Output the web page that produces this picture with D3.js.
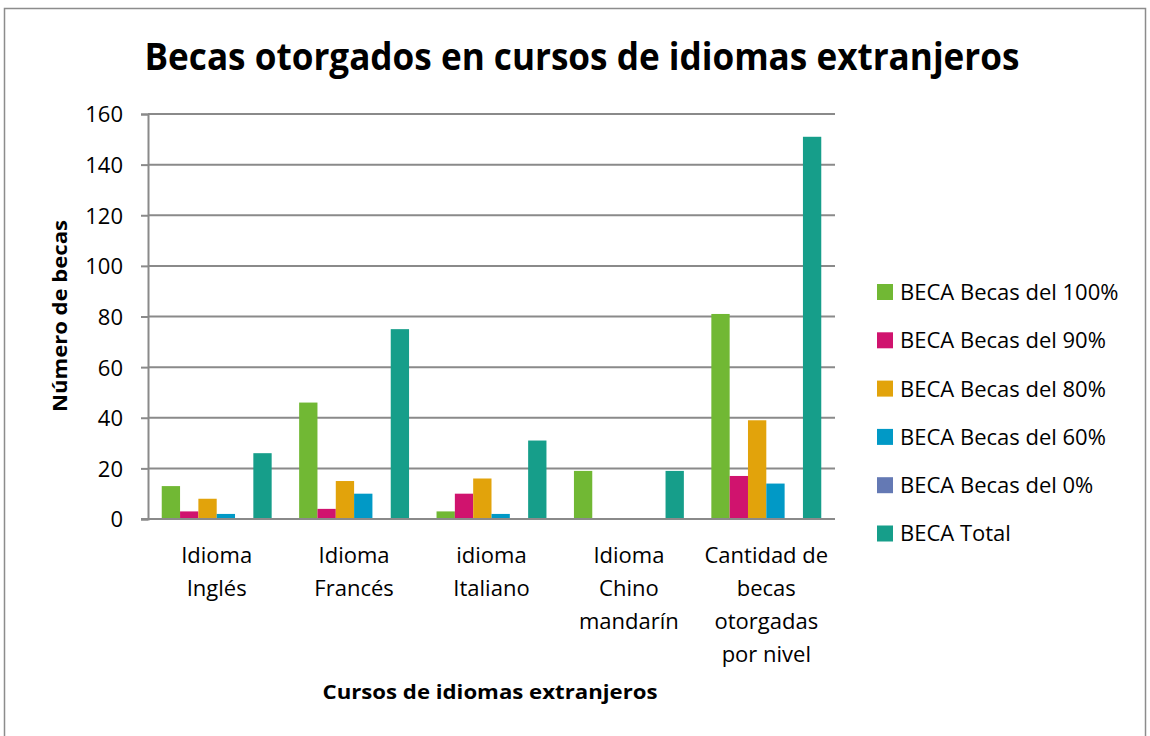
<!DOCTYPE html>
<html><head><meta charset="utf-8">
<script src="https://cdn.jsdelivr.net/npm/d3@7"></script>
<style>
html,body{margin:0;padding:0;background:#fff;}
svg{display:block;}
text{font-family:"Open Sans",Lato,sans-serif;fill:#000;}
</style></head>
<body>
<svg id="chart" width="1150" height="736"></svg>
<script>
const categories = [["Idioma","Inglés"],["Idioma","Francés"],["idioma","Italiano"],["Idioma","Chino","mandarín"],["Cantidad de","becas","otorgadas","por nivel"]];
const seriesNames = ["BECA Becas del 100%","BECA Becas del 90%","BECA Becas del 80%","BECA Becas del 60%","BECA Becas del 0%","BECA Total"];
const colors = ["#71b834","#d0136e","#e2a30b","#0199c6","#6479b4","#169e8a"];
const becas100 = [13,46,3,19,81];
const becas90 = [3,4,10,0,17];
const becas80 = [8,15,16,0,39];
const becas60 = [2,10,2,0,14];
const becas0 = [0,0,0,0,0];
const total = [26,75,31,19,151];
const yTicks = [0,20,40,60,80,100,120,140,160];
const seriesValues = [becas100,becas90,becas80,becas60,becas0,total];

const svg = d3.select("#chart");
const L = 148, R = 835, T = 114, B = 519;
const FS = 22;

svg.append("rect").attr("x",4.5).attr("y",8.5).attr("width",1141).attr("height",740)
  .attr("fill","#fff").attr("stroke","#8c8c8c").attr("stroke-width",1.5);

const x0 = d3.scaleBand().domain(d3.range(categories.length)).range([L,R]).paddingInner(0).paddingOuter(0);
const x1 = d3.scaleBand().domain(d3.range(seriesNames.length)).range([0,x0.bandwidth()]).paddingInner(0).paddingOuter(0.75);
const y = d3.scaleLinear().domain([0,160]).range([B,T]);

// gridlines
svg.append("g").selectAll("line").data(yTicks.filter(d=>d>0)).join("line")
  .attr("x1",L).attr("x2",R).attr("y1",d=>y(d)).attr("y2",d=>y(d))
  .attr("stroke","#8a8a8a").attr("stroke-width",2);

// bars
const groups = svg.append("g").selectAll("g").data(categories).join("g")
  .attr("transform",(d,i)=>`translate(${x0(i)},0)`);
groups.selectAll("rect").data((d,i)=>seriesValues.map((s,j)=>({j,v:s[i]}))).join("rect")
  .attr("x",d=>x1(d.j)).attr("width",x1.bandwidth())
  .attr("y",d=>y(d.v)).attr("height",d=>B-y(d.v))
  .attr("fill",d=>colors[d.j]);

// y axis
const yAxis = d3.axisLeft(y).tickValues(yTicks).tickSize(7).tickPadding(18);
const ya = svg.append("g").attr("transform",`translate(${L},0)`).call(yAxis);
ya.select(".domain").attr("stroke","#8a8a8a").attr("stroke-width",2);
ya.selectAll(".tick line").attr("stroke","#8a8a8a").attr("stroke-width",2);
ya.selectAll(".tick text").attr("font-size",22).attr("font-family","'Open Sans',Lato,sans-serif").attr("fill","#000").attr("dy","0.36em");

// x axis line
svg.append("line").attr("x1",L-7).attr("x2",R).attr("y1",B).attr("y2",B).attr("stroke","#8a8a8a").attr("stroke-width",2);

// x category labels
svg.append("g").selectAll("text").data(categories).join("text")
  .attr("x",(d,i)=>x0(i)+x0.bandwidth()/2).attr("y",563)
  .attr("text-anchor","middle").attr("font-size",FS)
  .each(function(d){
    const t = d3.select(this);
    d.forEach((line,k)=>{
      t.append("tspan").attr("x",t.attr("x")).attr("y",563+k*33).text(line);
    });
  });

// titles
svg.append("text").attr("x",582).attr("y",70).attr("text-anchor","middle")
  .attr("font-size",37).attr("font-weight","bold").attr("textLength",875).attr("lengthAdjust","spacingAndGlyphs")
  .text("Becas otorgados en cursos de idiomas extranjeros");
svg.append("text").attr("x",490).attr("y",699).attr("text-anchor","middle")
  .attr("font-size",20).attr("font-weight","bold").attr("textLength",335).attr("lengthAdjust","spacingAndGlyphs")
  .text("Cursos de idiomas extranjeros");
svg.append("text").attr("transform","translate(67,316) rotate(-90)").attr("text-anchor","middle")
  .attr("font-size",20).attr("font-weight","bold").attr("textLength",192).attr("lengthAdjust","spacingAndGlyphs")
  .text("Número de becas");

// legend
const leg = svg.append("g").selectAll("g").data(seriesNames).join("g")
  .attr("transform",(d,i)=>`translate(877,${292+i*48.3})`);
leg.append("rect").attr("x",0).attr("y",-8).attr("width",16).attr("height",16).attr("fill",(d,i)=>colors[i]);
leg.append("text").attr("x",23).attr("y",0).attr("dy","0.36em").attr("font-size",FS).text(d=>d);
</script>
</body></html>
